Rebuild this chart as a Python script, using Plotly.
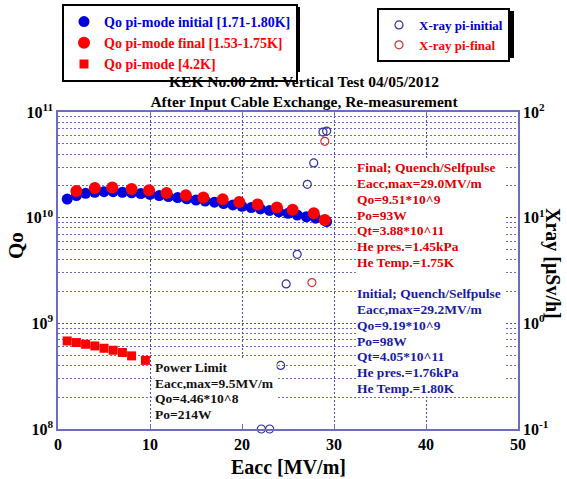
import plotly.graph_objects as go

# ---------------- data ----------------
eacc_init = [1, 2, 3, 4, 5, 6, 7, 8, 9, 10, 11, 12, 13, 14, 15, 16, 17, 18, 19, 20,
             21, 22, 23, 24, 25, 26, 27, 28, 29, 29.2]
qo_init = [1.50e10, 1.62e10, 1.70e10, 1.74e10, 1.76e10, 1.76e10, 1.74e10, 1.72e10, 1.69e10, 1.66e10,
           1.62e10, 1.585e10, 1.55e10, 1.51e10, 1.47e10, 1.435e10, 1.40e10, 1.36e10, 1.32e10, 1.28e10,
           1.245e10, 1.21e10, 1.17e10, 1.135e10, 1.10e10, 1.06e10, 1.02e10, 9.89e9, 9.44e9, 9.19e9]

eacc_final = [2.0, 4.0, 5.9, 8.0, 9.9, 11.8, 13.9, 15.8, 17.9, 19.7, 21.7, 23.8, 25.5, 27.8, 29.0]
qo_final = [1.79e10, 1.91e10, 1.93e10, 1.87e10, 1.82e10, 1.71e10, 1.63e10, 1.55e10, 1.49e10, 1.41e10,
            1.33e10, 1.25e10, 1.19e10, 1.10e10, 9.51e9]

eacc_42k = [1, 2, 3, 4, 5, 6, 7, 8, 9.5]
qo_42k = [6.81e8, 6.58e8, 6.34e8, 6.11e8, 5.81e8, 5.56e8, 5.30e8, 4.92e8, 4.46e8]

xray_init_eacc = [22.1, 23.0, 24.2, 24.8, 26.0, 27.1, 27.8, 28.8, 29.2]
xray_init = [0.1, 0.1, 0.40, 2.36, 4.5, 20.7, 33, 64.6, 66]
xray_final_eacc = [27.6, 29.0]
xray_final = [2.43, 52.8]

x_ticks = [0, 10, 20, 30, 40, 50]
qo_ticks = [1e8, 1e9, 1e10, 1e11]
qo_tick_text = ["10<sup>8</sup>", "10<sup>9</sup>", "10<sup>10</sup>", "10<sup>11</sup>"]
qo_minor = [m * 10 ** d for d in (8, 9, 10) for m in range(2, 10)]
xr_ticks = [0.1, 1, 10, 100]
xr_tick_text = ["10<sup>-1</sup>", "10<sup>0</sup>", "10<sup>1</sup>", "10<sup>2</sup>"]

final_lines = ["Final; Quench/Selfpulse", "Eacc,max=29.0MV/m", "Qo=9.51*10^9", "Po=93W",
               "Qt=3.88*10^11", "He pres.=1.45kPa", "He Temp.=1.75K"]
initial_lines = ["Initial; Quench/Selfpulse", "Eacc,max=29.2MV/m", "Qo=9.19*10^9", "Po=98W",
                 "Qt=4.05*10^11", "He pres.=1.76kPa", "He Temp.=1.80K"]
power_lines = ["Power Limit", "Eacc,max=9.5MV/m", "Qo=4.46*10^8", "Po=214W"]

# ---------------- layout helpers ----------------
W, H = 567, 479
ML, MR, MT, MB = 58, 49, 112, 50
PW, PH = W - ML - MR, H - MT - MB
FONT = "Liberation Serif"
GRID = "#4a4ab0"
FRAME = "#6c6cc4"


def px2x(px):
    return (px - ML) / PW


def py2y(py):
    return (H - MB - py) / PH


fig = go.Figure()

fig.add_trace(go.Scatter(
    x=eacc_init, y=qo_init, mode="markers", legend="legend",
    name="<b><span style='color:#0000dd'>Qo pi-mode initial [1.71-1.80K]</span></b>",
    marker=dict(symbol="circle", size=11, color="#0000dd", line=dict(width=0))))
fig.add_trace(go.Scatter(
    x=eacc_final, y=qo_final, mode="markers", legend="legend",
    name="<b><span style='color:#ff0000'>Qo pi-mode final [1.53-1.75K]</span></b>",
    marker=dict(symbol="circle", size=12, color="#ff0000", line=dict(width=0))))
fig.add_trace(go.Scatter(
    x=eacc_42k, y=qo_42k, mode="markers", legend="legend",
    name="<b><span style='color:#ff0000'>Qo pi-mode [4.2K]</span></b>",
    marker=dict(symbol="square", size=9, color="#ff0000", line=dict(width=0))))
fig.add_trace(go.Scatter(
    x=xray_init_eacc, y=xray_init, mode="markers", yaxis="y2", legend="legend2",
    cliponaxis=False,
    name="<b><span style='color:#0000cc'>X-ray pi-initial</span></b>",
    marker=dict(symbol="circle-open", size=8, color="#33339a", line=dict(width=1.2))))
fig.add_trace(go.Scatter(
    x=xray_final_eacc, y=xray_final, mode="markers", yaxis="y2", legend="legend2",
    cliponaxis=False,
    name="<b><span style='color:#ff0000'>X-ray pi-final</span></b>",
    marker=dict(symbol="circle-open", size=8, color="#cc3333", line=dict(width=1.2))))

annotations = []
# text blocks
right_lines = final_lines + [" "] + initial_lines
right_colors = ["#dd0000"] * len(final_lines) + ["#dd0000"] + ["#1a1aa8"] * len(initial_lines)
for i, (t, c) in enumerate(zip(right_lines, right_colors)):
    annotations.append(dict(
        text=f"<b>{t}</b>", xref="paper", yref="paper", x=px2x(356), y=py2y(167.3 + i * 15.75),
        xanchor="left", yanchor="middle", align="left", showarrow=False, width=147, height=16,
        bgcolor="white", borderpad=0, font=dict(family=FONT, size=13.5, color=c)))
for i, t in enumerate(power_lines):
    annotations.append(dict(
        text=f"<b>{t}</b>", xref="paper", yref="paper", x=px2x(154), y=py2y(366.7 + i * 15.8),
        xanchor="left", yanchor="middle", align="left", showarrow=False, width=121, height=16,
        bgcolor="white", borderpad=0, font=dict(family=FONT, size=13.5, color="#111111")))
# axis titles
annotations.append(dict(text="<b>Qo</b>", xref="paper", yref="paper", x=px2x(16), y=py2y(246),
                        textangle=-90, showarrow=False, xanchor="center", yanchor="middle",
                        font=dict(family=FONT, size=21, color="black")))
annotations.append(dict(text="<b>Xray [μSv/h]</b>", xref="paper", yref="paper", x=px2x(553),
                        y=py2y(263), textangle=90, showarrow=False, xanchor="center", yanchor="middle",
                        font=dict(family=FONT, size=20, color="black")))
annotations.append(dict(text="<b>Eacc [MV/m]</b>", xref="paper", yref="paper", x=px2x(288),
                        y=py2y(466.5), showarrow=False, xanchor="center", yanchor="middle",
                        font=dict(family=FONT, size=20, color="black")))

shapes = [
    dict(type="rect", xref="paper", yref="paper", x0=px2x(65), x1=px2x(300), y0=py2y(72), y1=py2y(7),
         fillcolor="black", line=dict(width=0), layer="above"),
    dict(type="rect", xref="paper", yref="paper", x0=px2x(380), x1=px2x(514), y0=py2y(58), y1=py2y(11),
         fillcolor="black", line=dict(width=0), layer="above"),
]

tickfont = dict(family=FONT, size=16, color="black")

fig.update_layout(
    width=W, height=H, margin=dict(l=ML, r=MR, t=MT, b=MB, autoexpand=False),
    paper_bgcolor="white", plot_bgcolor="white",
    font=dict(family=FONT, color="black"),
    title=dict(text="<b>KEK No.00 2nd. Vertical Test 04/05/2012<br>After Input Cable Exchange, Re-measurement</b>",
               x=px2x(304), xref="paper", xanchor="center", y=1 - 86.5 / H, yref="container",
               yanchor="middle", font=dict(family=FONT, size=15.5, color="black")),
    xaxis=dict(range=[0, 50], tickvals=x_ticks, ticktext=[f"<b>{v}</b>" for v in x_ticks],
               tickfont=tickfont, showgrid=True, gridcolor=GRID, griddash="2px,2px", gridwidth=1,
               showline=True, linecolor=FRAME, linewidth=1.5, mirror="ticks",
               ticks="inside", ticklen=5, tickcolor=FRAME, zeroline=False),
    yaxis=dict(type="log", range=[8, 11], tickvals=qo_ticks,
               ticktext=[f"<b>{t}</b>" for t in qo_tick_text], tickfont=tickfont,
               showgrid=True, gridcolor=GRID, griddash="2px,2px", gridwidth=1,
               minor=dict(tickvals=qo_minor, showgrid=True, gridcolor="#6a6ac0",
                          griddash="2px,2px", gridwidth=1, ticks=""),
               showline=True, linecolor=FRAME, linewidth=1.5, ticks="", zeroline=False,
               ticklabelstandoff=0),
    yaxis2=dict(type="log", range=[-1, 2], overlaying="y", side="right", tickvals=xr_ticks,
                ticktext=[f"<b>{t}</b>" for t in xr_tick_text], tickfont=tickfont,
                showgrid=False, showline=True, linecolor=FRAME, linewidth=1.5, ticks="",
                zeroline=False),
    legend=dict(x=px2x(62), y=py2y(4), xanchor="left", yanchor="top", bgcolor="white",
                bordercolor="black", borderwidth=2, font=dict(family=FONT, size=14)),
    legend2=dict(x=px2x(377), y=py2y(8), xanchor="left", yanchor="top", bgcolor="white",
                 bordercolor="black", borderwidth=2, font=dict(family=FONT, size=13)),
    annotations=annotations,
    shapes=shapes,
)

fig.write_html("out.html", config={"displayModeBar": False},
               post_script="document.body.style.margin='0px';document.body.style.padding='0px';")
